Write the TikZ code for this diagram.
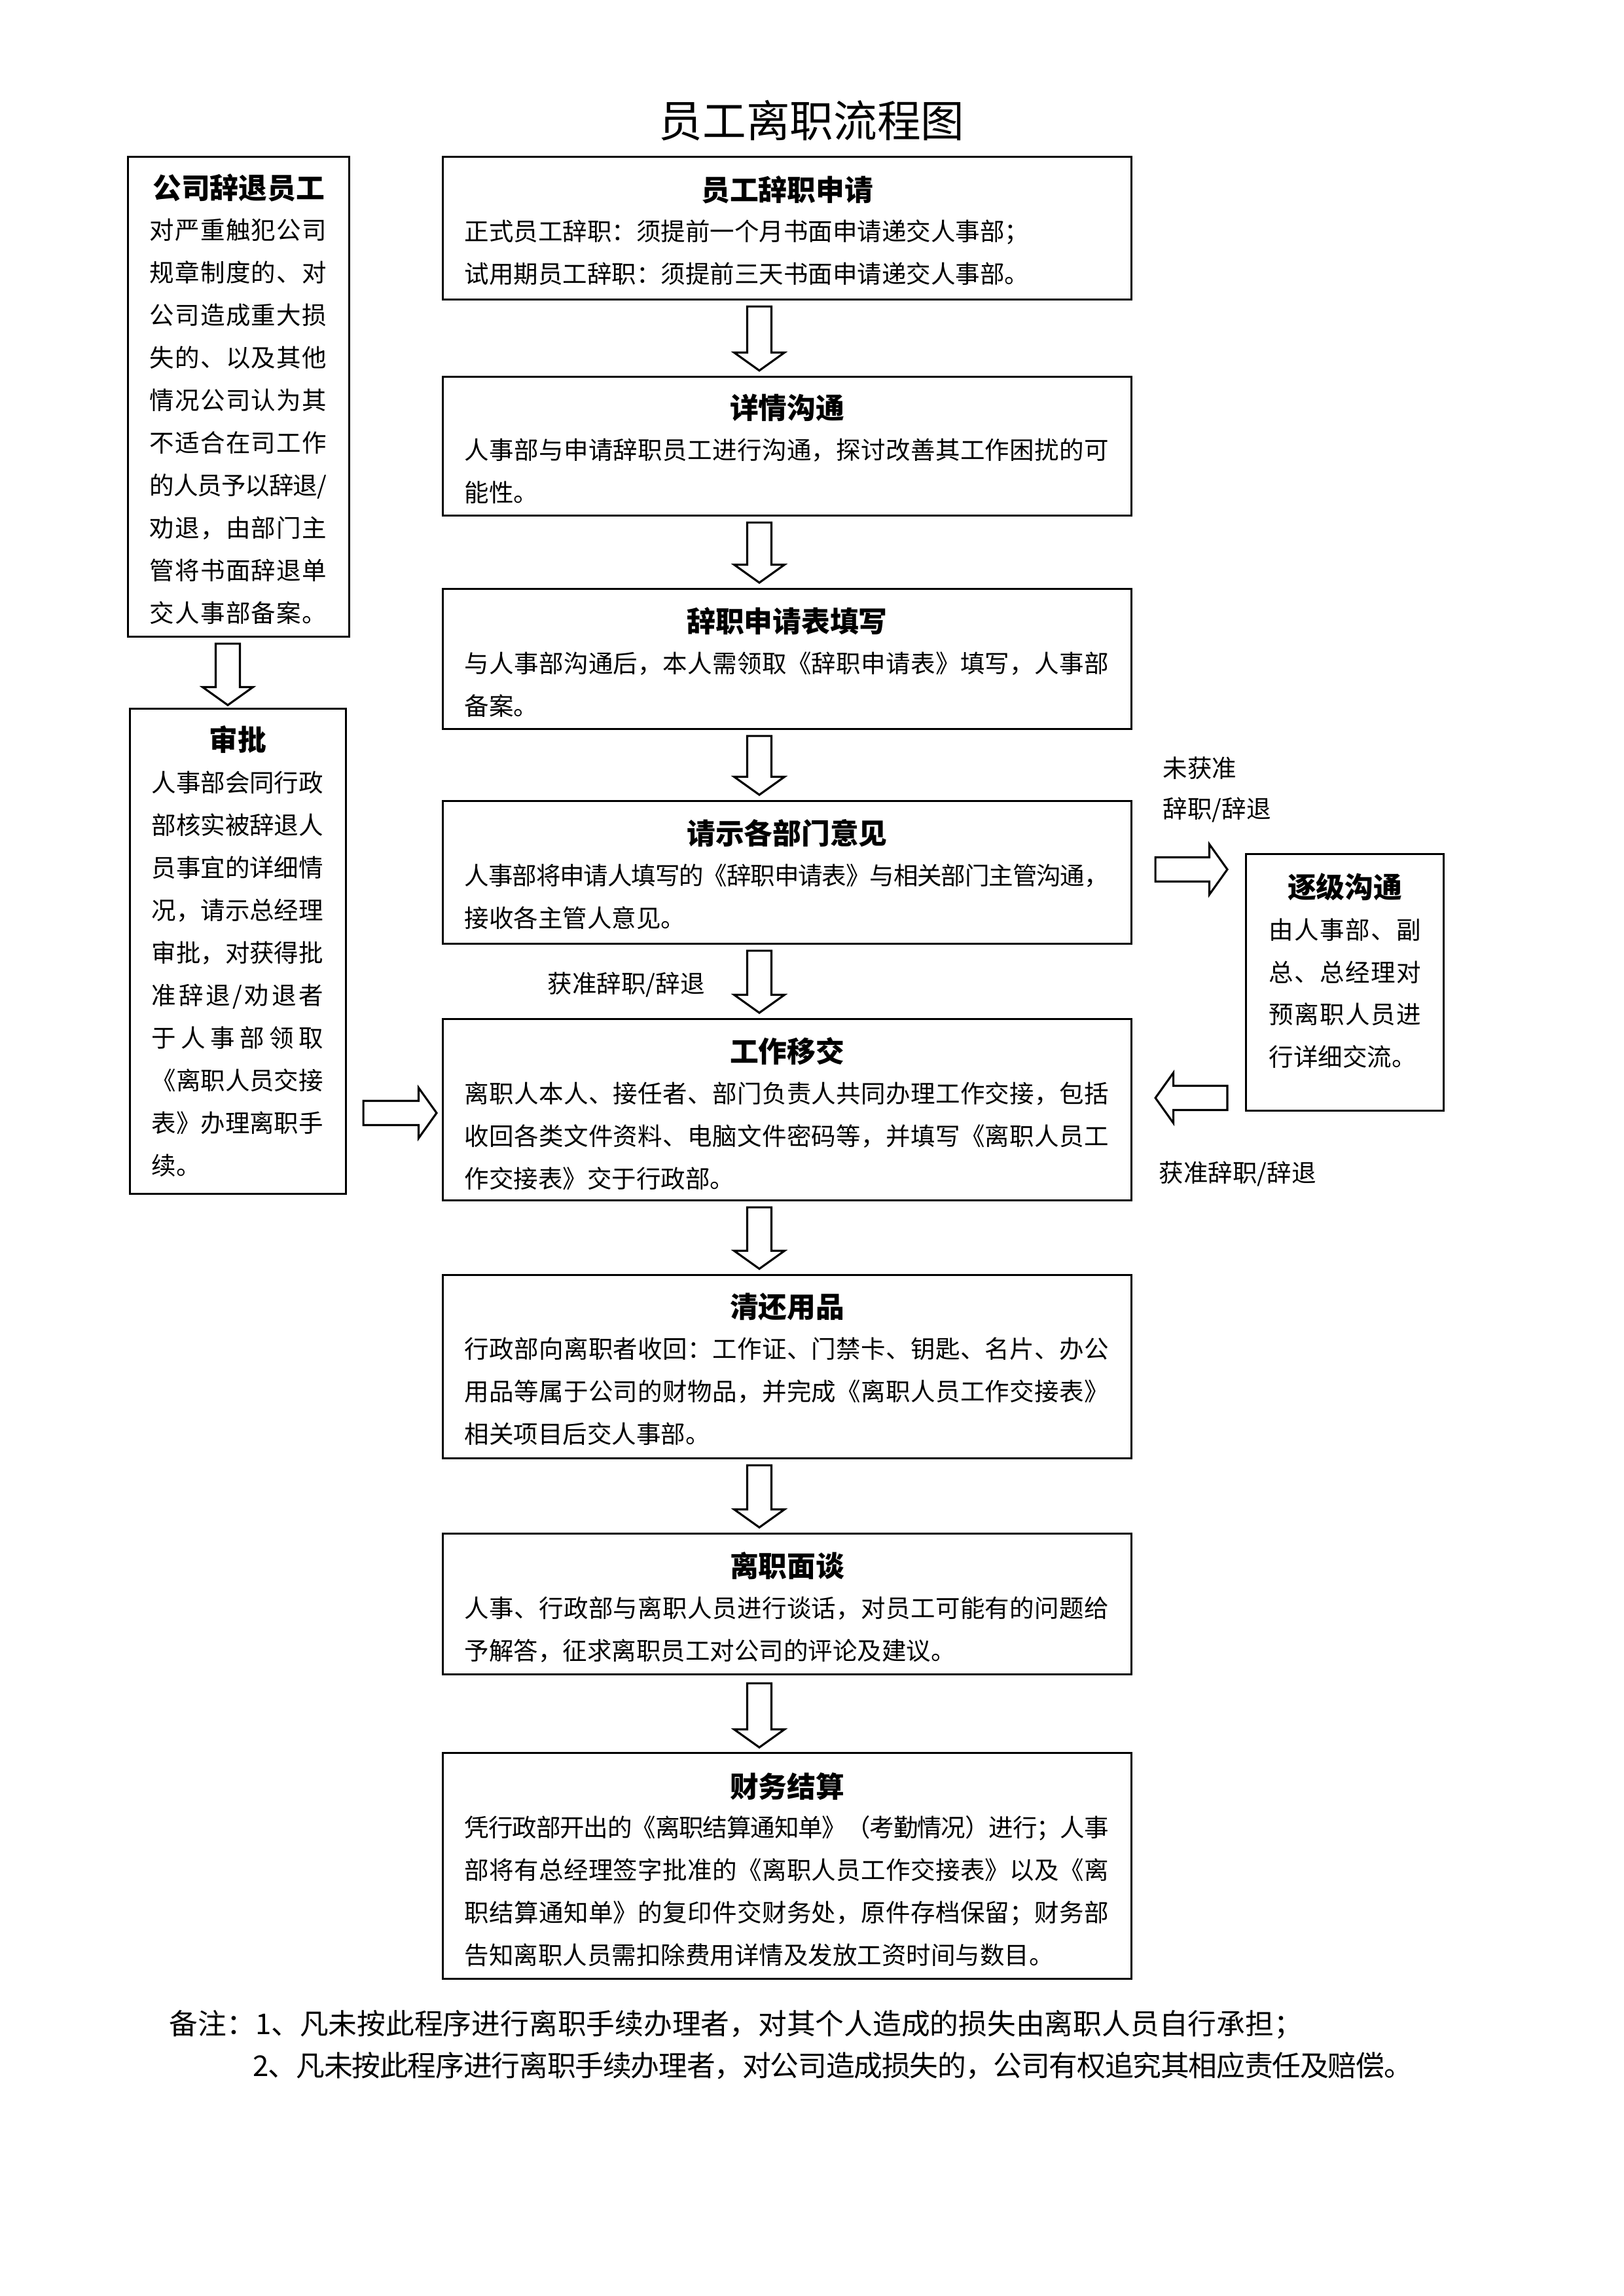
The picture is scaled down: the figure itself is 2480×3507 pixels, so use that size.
\documentclass[tikz,border=0pt]{standalone}
\usepackage{fontspec}
\setmainfont{Noto Sans CJK SC}
\usetikzlibrary{calc}
\newdimen\pxu \pxu=0.24pt
\newdimen\jw
\def\jlEnd{\jlEnd}
\def\jlA#1{#1\futurelet\jlNext\jlB}
\def\jlB{\ifx\jlNext\jlEnd\expandafter\jlC\else\hskip0pt plus1fil minus0.5pt\relax\expandafter\jlA\fi}
\def\jlC#1{}
\newcommand\jline[1]{\hbox to \jw{\jlA#1\jlEnd}}
\newcommand\lline[1]{\hbox{#1}}
\def\aSW{4.44pt}\def\aHW{9.24pt}\def\aHL{6.6pt}
\newcommand\downblk[2]{\draw[blk] let \p1=#1, \p2=#2 in (\x1-\aSW,\y1) -- (\x1-\aSW,\y2+\aHL) -- (\x1-\aHW,\y2+\aHL) -- (\x1,\y2) -- (\x1+\aHW,\y2+\aHL) -- (\x1+\aSW,\y2+\aHL) -- (\x1+\aSW,\y1) -- cycle;}
\newcommand\rightblk[2]{\draw[blk] let \p1=#1, \p2=#2 in (\x1,\y1-\aSW) -- (\x2-\aHL,\y1-\aSW) -- (\x2-\aHL,\y1-\aHW) -- (\x2,\y1) -- (\x2-\aHL,\y1+\aHW) -- (\x2-\aHL,\y1+\aSW) -- (\x1,\y1+\aSW) -- cycle;}
\newcommand\leftblk[2]{\draw[blk] let \p1=#1, \p2=#2 in (\x1,\y1-\aSW) -- (\x2+\aHL,\y1-\aSW) -- (\x2+\aHL,\y1-\aHW) -- (\x2,\y1) -- (\x2+\aHL,\y1+\aHW) -- (\x2+\aHL,\y1+\aSW) -- (\x1,\y1+\aSW) -- cycle;}
\tikzset{
  box/.style={draw, line width=0.75pt, inner sep=0pt, anchor=north west},
  ttl/.style={font=\fontsize{10.5pt}{12pt}\selectfont\bfseries, inner sep=0pt, anchor=base},
  body/.style={font=\fontsize{9pt}{15.6pt}\selectfont, inner sep=0pt, anchor=base west},
  lbl/.style={font=\fontsize{9pt}{15.1pt}\selectfont, inner sep=0pt, anchor=base west},
  note/.style={font=\fontsize{10.5pt}{14pt}\selectfont, inner sep=0pt, anchor=base west},
  blk/.style={draw, line width=0.75pt, fill=white, line join=miter},
}
\begin{document}
\begin{tikzpicture}[x=0.24pt,y=-0.24pt]
\useasboundingbox (0,0) rectangle (2480,3507);
\fill[white] (0,0) rectangle (2480,3507);

\node[inner sep=0pt, anchor=base, font=\fontsize{16pt}{18pt}\selectfont] (T) at (1240,210) {员工离职流程图};

% main column boxes
\node[box, minimum width=1052*0.24pt, minimum height=218*0.24pt] (B1) at (675,238) {};
\node[box, minimum width=1052*0.24pt, minimum height=212*0.24pt] (B2) at (675,574) {};
\node[box, minimum width=1052*0.24pt, minimum height=214*0.24pt] (B3) at (675,898) {};
\node[box, minimum width=1052*0.24pt, minimum height=218*0.24pt] (B4) at (675,1222) {};
\node[box, minimum width=1052*0.24pt, minimum height=277*0.24pt] (B5) at (675,1555) {};
\node[box, minimum width=1052*0.24pt, minimum height=280*0.24pt] (B6) at (675,1946) {};
\node[box, minimum width=1052*0.24pt, minimum height=215*0.24pt] (B7) at (675,2341) {};
\node[box, minimum width=1052*0.24pt, minimum height=345*0.24pt] (B8) at (675,2676) {};
% left and right boxes
\node[box, minimum width=338*0.24pt, minimum height=733*0.24pt] (L1) at (194,238) {};
\node[box, minimum width=330*0.24pt, minimum height=741*0.24pt] (L2) at (197,1081) {};
\node[box, minimum width=302*0.24pt, minimum height=392*0.24pt] (R) at (1902,1303) {};

% titles
\node[ttl] (B1h) at ($(B1.north)+(0,69)$) {员工辞职申请};
\node[ttl] (B2h) at ($(B2.north)+(0,66)$) {详情沟通};
\node[ttl] (B3h) at ($(B3.north)+(0,68)$) {辞职申请表填写};
\node[ttl] (B4h) at ($(B4.north)+(0,67)$) {请示各部门意见};
\node[ttl] (B5h) at ($(B5.north)+(0,67)$) {工作移交};
\node[ttl] (B6h) at ($(B6.north)+(0,66)$) {清还用品};
\node[ttl] (B7h) at ($(B7.north)+(0,67)$) {离职面谈};
\node[ttl] (B8h) at ($(B8.north)+(0,69)$) {财务结算};
\node[ttl] (L1h) at ($(L1.north)+(0,66)$) {公司辞退员工};
\node[ttl] (L2h) at ($(L2.north)+(0,66)$) {审批};
\node[ttl] (Rh) at ($(R.north)+(0,68)$) {逐级沟通};

% bodies
\node[body] (B1b) at ($(B1.north west)+(34,130)$) {\vtop{\lline{正式员工辞职：须提前一个月书面申请递交人事部；}\lline{试用期员工辞职：须提前三天书面申请递交人事部。}}};
\node[body] (B2b) at ($(B2.north west)+(34,128)$) {\jw=984\pxu\vtop{\jline{人事部与申请辞职员工进行沟通，探讨改善其工作困扰的可}\lline{能性。}}};
\node[body] (B3b) at ($(B3.north west)+(34,130)$) {\jw=984\pxu\vtop{\jline{与人事部沟通后，本人需领取《辞职申请表》填写，人事部}\lline{备案。}}};
\node[body] (B4b) at ($(B4.north west)+(34,129)$) {\jw=984\pxu\vtop{\jline{人事部将申请人填写的《辞职申请表》与相关部门主管沟通，}\lline{接收各主管人意见。}}};
\node[body] (B5b) at ($(B5.north west)+(34,129)$) {\jw=984\pxu\vtop{\jline{离职人本人、接任者、部门负责人共同办理工作交接，包括}\jline{收回各类文件资料、电脑文件密码等，并填写《离职人员工}\lline{作交接表》交于行政部。}}};
\node[body] (B6b) at ($(B6.north west)+(34,128)$) {\jw=984\pxu\vtop{\jline{行政部向离职者收回：工作证、门禁卡、钥匙、名片、办公}\jline{用品等属于公司的财物品，并完成《离职人员工作交接表》}\lline{相关项目后交人事部。}}};
\node[body] (B7b) at ($(B7.north west)+(34,129)$) {\jw=984\pxu\vtop{\jline{人事、行政部与离职人员进行谈话，对员工可能有的问题给}\lline{予解答，征求离职员工对公司的评论及建议。}}};
\node[body] (B8b) at ($(B8.north west)+(34,129)$) {\jw=984\pxu\vtop{\jline{凭行政部开出的《离职结算通知单》（考勤情况）进行；人事}\jline{部将有总经理签字批准的《离职人员工作交接表》以及《离}\jline{职结算通知单》的复印件交财务处，原件存档保留；财务部}\lline{告知离职人员需扣除费用详情及发放工资时间与数目。}}};
\node[body] (L1b) at ($(L1.north west)+(34,128)$) {\jw=270\pxu\vtop{\jline{对严重触犯公司}\jline{规章制度的、对}\jline{公司造成重大损}\jline{失的、以及其他}\jline{情况公司认为其}\jline{不适合在司工作}\jline{的人员予以辞退/}\jline{劝退，由部门主}\jline{管将书面辞退单}\jline{交人事部备案。}}};
\node[body] (L2b) at ($(L2.north west)+(34,129)$) {\jw=262\pxu\vtop{\jline{人事部会同行政}\jline{部核实被辞退人}\jline{员事宜的详细情}\jline{况，请示总经理}\jline{审批，对获得批}\jline{准辞退/劝退者}\jline{于人事部领取}\jline{《离职人员交接}\jline{表》办理离职手}\lline{续。}}};
\node[body] (Rb) at ($(R.north west)+(36,131)$) {\jw=232\pxu\vtop{\jline{由人事部、副}\jline{总、总经理对}\jline{预离职人员进}\lline{行详细交流。}}};

% labels
\node[lbl] (lab1) at (836,1516) {获准辞职/辞退};
\node[lbl] (lab2) at (1776,1187) {\vtop{\hbox{未获准}\hbox{辞职/辞退}}};
\node[lbl] (lab3) at (1770,1805) {获准辞职/辞退};

% notes
\node[note] (N1) at (258,3107) {\jw=1731\pxu\jline{备注：1、凡未按此程序进行离职手续办理者，对其个人造成的损失由离职人员自行承担；}};
\node[note] (N2) at (386,3171) {\jw=1771\pxu\jline{2、凡未按此程序进行离职手续办理者，对公司造成损失的，公司有权追究其相应责任及赔偿。}};

% arrows
\coordinate (ax) at (1160,0);
\coordinate (lx) at (348,0);
\coordinate (hy1) at (0,1700);
\coordinate (hy2) at (0,1328);
\coordinate (hy3) at (0,1677);
\downblk{($(B1.south -| ax)+(0,9)$)}{($(B2.north -| ax)+(0,-8)$)}
\downblk{($(B2.south -| ax)+(0,9)$)}{($(B3.north -| ax)+(0,-8)$)}
\downblk{($(B3.south -| ax)+(0,9)$)}{($(B4.north -| ax)+(0,-8)$)}
\downblk{($(B4.south -| ax)+(0,9)$)}{($(B5.north -| ax)+(0,-8)$)}
\downblk{($(B5.south -| ax)+(0,9)$)}{($(B6.north -| ax)+(0,-8)$)}
\downblk{($(B6.south -| ax)+(0,9)$)}{($(B7.north -| ax)+(0,-8)$)}
\downblk{($(B7.south -| ax)+(0,12)$)}{($(B8.north -| ax)+(0,-7)$)}
\downblk{($(L1.south -| lx)+(0,9)$)}{($(L2.north -| lx)+(0,-4)$)}
\rightblk{($(L2.east |- hy1)+(25,0)$)}{($(B5.west |- hy1)+(-8,0)$)}
\rightblk{($(B4.east |- hy2)+(35,0)$)}{($(R.west |- hy2)+(-27,0)$)}
\leftblk{($(R.west |- hy3)+(-27,0)$)}{($(B5.east |- hy3)+(35,0)$)}
\end{tikzpicture}
\end{document}
